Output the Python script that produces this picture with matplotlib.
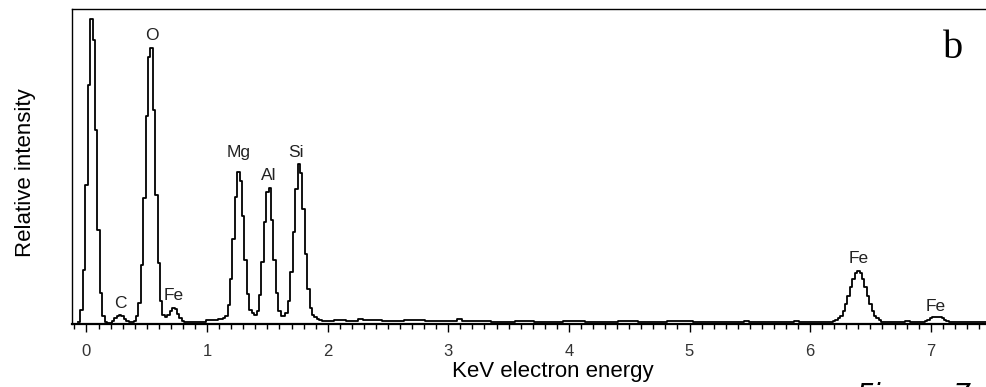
import numpy as np
import matplotlib
matplotlib.use("Agg")
import matplotlib.pyplot as plt
from matplotlib.ticker import MultipleLocator

# EDS spectrum as a step outline: channel left edge (keV) and counts from that edge on
edge_kev = [-0.07, -0.05, -0.03, -0.01, 0.01, 0.03, 0.05, 0.07, 0.09, 0.11, 0.13, 0.15, 0.17,
	0.21, 0.23, 0.25, 0.27, 0.29, 0.31, 0.33, 0.35, 0.39,
	0.41, 0.43, 0.45, 0.47, 0.49, 0.51, 0.53, 0.55, 0.57, 0.59, 0.61, 0.63,
	0.65, 0.67, 0.69, 0.71, 0.73, 0.75, 0.77, 0.79, 0.81, 0.99, 1.09, 1.13,
	1.15, 1.17, 1.19, 1.21, 1.23, 1.25, 1.27, 1.29, 1.31, 1.33, 1.35, 1.37, 1.39,
	1.41, 1.43, 1.45, 1.47, 1.49, 1.51, 1.53, 1.55, 1.57, 1.59, 1.61, 1.63,
	1.65, 1.67, 1.69, 1.71, 1.73, 1.75, 1.77, 1.79, 1.81, 1.83, 1.85, 1.87, 1.89, 1.91, 1.93,
	1.95, 2.05, 2.15, 2.25, 2.29, 2.45, 2.63, 2.81, 3.07, 3.11, 3.35, 3.55, 3.71, 3.95,
	4.13, 4.41, 4.57, 4.81, 5.03, 5.45, 5.49, 5.87, 5.91,
	6.19, 6.21, 6.23, 6.25, 6.27, 6.29, 6.31, 6.33, 6.35, 6.37, 6.39, 6.41, 6.43, 6.45,
	6.47, 6.49, 6.51, 6.53, 6.55, 6.57, 6.59, 6.79, 6.83,
	6.95, 6.97, 6.99, 7.01, 7.09, 7.11, 7.13, 7.15, 7.47]
counts = [2, 15, 55, 140, 240, 306, 285, 195, 95, 32, 8, 2, 1,
	3, 6, 9, 10, 8, 5, 3, 2, 3,
	8, 22, 60, 127, 209, 268, 277, 215, 130, 62, 24, 10,
	7, 10, 14, 17, 16, 11, 6, 3, 2, 4, 5, 6,
	9, 20, 46, 86, 128, 153, 144, 109, 65, 31, 15, 12, 10,
	14, 30, 63, 103, 133, 137, 105, 65, 32, 14, 9, 8,
	12, 24, 53, 93, 136, 161, 152, 116, 71, 36, 17, 10, 7, 5, 4,
	3, 4, 3, 5, 4, 3, 4, 3, 5, 3, 2, 3, 2, 3,
	2, 3, 2, 3, 2, 3, 2, 3, 2,
	3, 4, 6, 9, 14, 21, 29, 38, 46, 52, 54, 52, 46, 38,
	29, 21, 14, 9, 6, 4, 2, 3, 2,
	3, 4, 6, 7, 6, 4, 3, 2, 2]

# element labels: name, energy (keV), baseline height of the text
peak_names = ["C", "O", "Fe", "Mg", "Al", "Si", "Fe", "Fe"]
peak_kev = [0.282, 0.543, 0.72, 1.259, 1.508, 1.74, 6.404, 7.042]
label_y = [16.5, 284.5, 24.5, 167.5, 144.5, 167.5, 61.5, 13.5]

tick_kev = [0, 1, 2, 3, 4, 5, 6, 7]

plt.rcParams["font.family"] = ["Liberation Sans", "DejaVu Sans"]

fig = plt.figure(figsize=(9.86, 3.87), dpi=100)
ax = fig.add_axes([0.07302, 0.1615, 0.92901, 0.8152])

ax.plot(edge_kev, counts, drawstyle="steps-post", color="black", lw=1.3)

for name, x, y in zip(peak_names, peak_kev, label_y):
	ax.text(x, y, name, ha="center", va="baseline", fontsize=12.5, color="#222222")

ax.set_xlim(-0.12, 7.475)
ax.set_ylim(0, 315.5)

ax.xaxis.set_major_locator(MultipleLocator(1))
ax.xaxis.set_minor_locator(MultipleLocator(0.1))
ax.set_xticks(tick_kev)
ax.set_xticklabels([str(t) for t in tick_kev])
ax.tick_params(axis="x", which="major", direction="out", length=6, width=1.0,
	pad=8, labelsize=12, labelcolor="#333333")
ax.tick_params(axis="x", which="minor", direction="out", length=3.6, width=1.0)
ax.set_yticks([])

ax.spines["right"].set_visible(False)
ax.spines["left"].set_linewidth(1.0)
ax.spines["top"].set_linewidth(1.0)
ax.spines["bottom"].set_linewidth(1.6)

fig.text(26 / 986, 1 - 173 / 387, "Relative intensity", rotation=90,
	ha="center", va="center", fontsize=16)
fig.text(553 / 986, 1 - 377 / 387, "KeV electron energy",
	ha="center", va="baseline", fontsize=16)

# panel letter and caption (the caption runs off the bottom edge)
fig.text(953 / 986, 1 - 58 / 387, "b", ha="center", va="baseline",
	fontsize=29, family="Liberation Serif")
fig.text(857 / 986, 1 - 404 / 387, "Figure 7", ha="left", va="baseline",
	fontsize=20, family="DejaVu Sans", style="italic")

fig.savefig("out.png", dpi=100)
